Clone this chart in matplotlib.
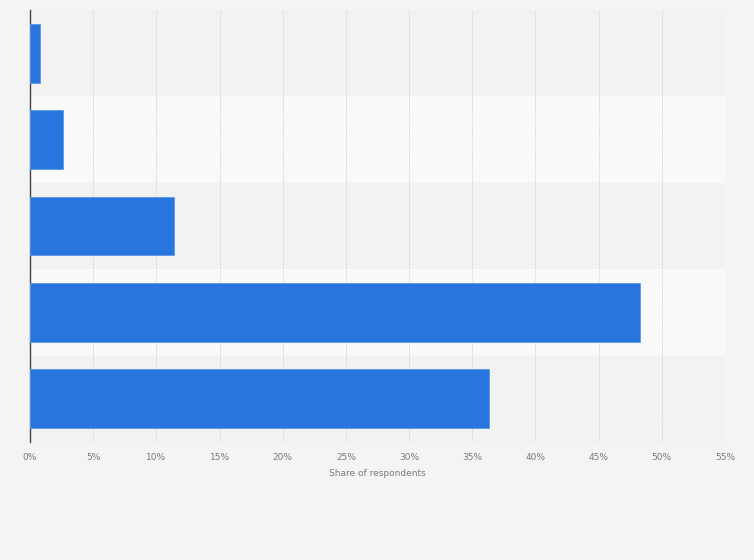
import numpy as np
import matplotlib.pyplot as plt

# Values (top to bottom)
categories = ["A", "B", "C", "D", "E"]
shares = [0.8, 2.6, 11.4, 48.3, 36.3]
ticks = [0, 5, 10, 15, 20, 25, 30, 35, 40, 45, 50, 55]
tick_labels = [f"{t}%" for t in ticks]

bg = "#f4f4f4"
fig = plt.figure(figsize=(7.54, 5.6), dpi=100, facecolor=bg)
ax = fig.add_axes([30/754, 118/560, 695/754, 432/560])
ax.set_facecolor(bg)

y = np.arange(len(categories))

# alternating row bands
for i in y:
    col = "#f9f9f9" if i % 2 == 1 else "#f2f2f2"
    ax.axhspan(i - 0.5, i + 0.5, color=col, zorder=0, lw=0)

ax.barh(y, shares, height=0.68, color="#2876dd", edgecolor="#5a97e8", linewidth=0.6, zorder=3)

ax.set_ylim(len(categories) - 0.5, -0.5)
ax.set_xlim(0, 55)
ax.set_xticks(ticks)
ax.set_xticklabels(tick_labels, fontsize=6.5, color="#7a7a7a")
ax.set_yticks([])
ax.tick_params(axis="x", length=0, pad=8)

ax.grid(axis="x", color="#d6d6d6", linestyle=(0, (1.5, 1)), linewidth=0.7, zorder=1)

for s in ["top", "right", "bottom"]:
    ax.spines[s].set_visible(False)
ax.spines["left"].set_color("#444444")
ax.spines["left"].set_linewidth(1)

ax.set_xlabel("Share of respondents", fontsize=6.5, color="#7a7a7a", labelpad=5)

plt.savefig("out.png", dpi=100, facecolor=bg)
